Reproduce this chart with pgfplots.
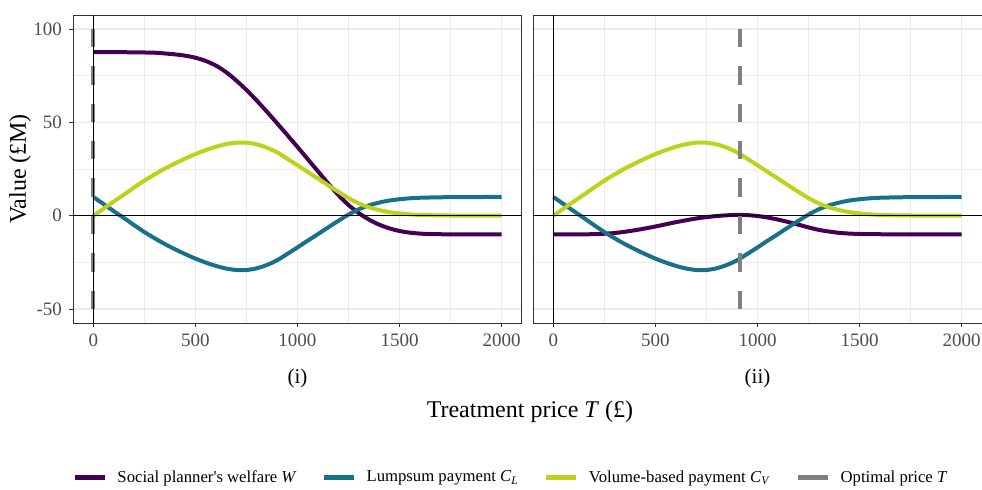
\documentclass[border=0pt]{standalone}
\usepackage{fontspec}
\setmainfont{Liberation Serif}
\usepackage{pgfplots}
\pgfplotsset{compat=1.18}
\usepackage{pgfplotstable}

\definecolor{cW}{HTML}{440154}
\definecolor{cL}{HTML}{17718A}
\definecolor{cV}{HTML}{BDD21B}
\definecolor{cT}{HTML}{808080}
\definecolor{gridc}{HTML}{EBEBEB}
\definecolor{g20}{HTML}{333333}
\definecolor{g30}{HTML}{4D4D4D}

\pgfplotstableread{
x y
0 0
50 3.8
100 7.6
150 11.3
200 15.1
250 18.8
300 22.1
350 25.2
400 28.0
450 30.6
500 33.0
550 35.1
600 36.9
650 38.3
700 39.1
750 39.1
800 38.2
850 36.4
900 33.9
950 30.5
1000 27.0
1050 23.4
1100 19.9
1150 16.3
1200 12.8
1250 9.4
1300 6.6
1350 4.5
1400 3.0
1450 1.9
1500 1.2
1550 0.7
1600 0.4
1700 0.15
1800 0.05
1900 0
2000 0
}\tabCV

\pgfplotstableread{
x y
0 10
50 6.2
100 2.4
150 -1.3
200 -5.1
250 -8.8
300 -12.1
350 -15.2
400 -18.0
450 -20.6
500 -23.0
550 -25.1
600 -26.9
650 -28.3
700 -29.1
750 -29.1
800 -28.2
850 -26.4
900 -23.9
950 -20.5
1000 -17.0
1050 -13.4
1100 -9.9
1150 -6.3
1200 -2.8
1250 0.6
1300 3.4
1350 5.5
1400 7.0
1450 8.1
1500 8.8
1550 9.3
1600 9.6
1700 9.85
1800 9.95
1900 10
2000 10
}\tabCL

\pgfplotstableread{
x y
0 87.6
100 87.6
200 87.5
300 87.3
350 86.9
400 86.4
450 85.7
500 84.6
550 82.9
600 80.4
650 76.9
700 72.4
750 67.3
800 61.7
850 55.7
900 49.5
950 43.2
1000 36.8
1050 30.3
1100 23.8
1150 17.3
1200 11.1
1250 5.7
1300 1.4
1350 -2.1
1400 -4.8
1450 -6.8
1500 -8.2
1550 -9.1
1600 -9.6
1650 -9.85
1700 -9.95
1800 -10
2000 -10
}\tabWa

\pgfplotstableread{
x y
0 -10
100 -10
200 -9.9
300 -9.3
400 -7.8
500 -5.8
600 -3.5
700 -1.5
750 -0.8
800 -0.2
850 0.2
900 0.4
950 0.3
1000 -0.2
1050 -1.0
1100 -2.1
1150 -3.4
1200 -4.8
1250 -6.3
1300 -7.6
1350 -8.5
1400 -9.2
1450 -9.6
1500 -9.8
1600 -9.95
1700 -10
2000 -10
}\tabWb

\pgfplotsset{
  panel/.style={
    scale only axis, width=224.5pt, height=154pt,
    xmin=-100, xmax=2100, ymin=-57.5, ymax=107.5,
    clip mode=individual,
    xtick={0,500,1000,1500,2000}, xticklabels={0,500,1000,1500,2000},
    minor xtick={250,750,1250,1750},
    ytick={-50,0,50,100},
    minor ytick={-25,25,75},
    grid=both,
    major grid style={color=gridc, line width=0.6pt},
    minor grid style={color=gridc, line width=0.3pt},
    axis line style={color=g20, line width=0.5pt},
    tick align=outside, major tick length=2pt, minor tick length=0pt,
    tick style={color=g20, line width=0.5pt},
    xtick pos=left, ytick pos=left,
    tick label style={font=\fontsize{9.5}{11}\selectfont, text=g30},
    /pgf/number format/assume math mode=true,
    legend image code/.code={\draw[#1, solid, line width=2.5pt] (0pt,0pt) -- (15pt,0pt);},
  },
}

\begin{document}
\begin{tikzpicture}
\begin{axis}[panel, at={(36.5pt,83pt)}, anchor=south west,
  yticklabels={-50,0,50,100},
  xlabel={Treatment price \textit{T} (£)},
  xlabel style={at={(axis description cs:1.0178,-0.289)}, anchor=center, font=\fontsize{12}{14}\selectfont},
  ylabel={Value (£M)},
  ylabel style={at={(axis description cs:-0.118,0.5)}, anchor=center, font=\fontsize{12}{14}\selectfont},
  legend columns=4,
  legend style={draw=none, fill=none, at={(axis description cs:-0.002,-0.503)}, anchor=west,
    inner xsep=0pt, inner ysep=0pt, font=\fontsize{8.35}{10}\selectfont,
    nodes={inner sep=0pt},
    /tikz/every odd column/.append style={column sep=5pt},
    /tikz/every even column/.append style={column sep=12.5pt}},
]
\addplot[cW, line width=2pt, smooth] table {\tabWa};
\addlegendentry{Social planner\textquotesingle s welfare \textit{W}}
\addplot[cL, line width=2pt, smooth] table {\tabCL};
\addlegendentry{Lumpsum payment \textit{C}\textsubscript{\textit{L}}}
\addplot[cV, line width=2pt, smooth] table {\tabCV};
\addlegendentry{Volume-based payment \textit{C}\textsubscript{\textit{V}}}
\addplot[cT, line width=2pt, dash pattern=on 9.2pt off 9.5pt] coordinates {(0,-50) (0,100)};
\addlegendentry{Optimal price \textit{T}}
\addplot[black, line width=0.6pt, forget plot] coordinates {(-100,0) (2100,0)};
\addplot[black, line width=0.6pt, forget plot] coordinates {(0,-57.5) (0,107.5)};
\node[font=\fontsize{10.5}{12}\selectfont] at (axis description cs:0.5,-0.179) {(i)};
\end{axis}

\begin{axis}[panel, at={(266.5pt,83pt)}, anchor=south west,
  yticklabels={}, ytick style={draw=none},
]
\addplot[cW, line width=2pt, smooth] table {\tabWb};
\addplot[cL, line width=2pt, smooth] table {\tabCL};
\addplot[cV, line width=2pt, smooth] table {\tabCV};
\addplot[cT, line width=2pt, dash pattern=on 9.2pt off 9.5pt] coordinates {(915,-50) (915,100)};
\addplot[black, line width=0.6pt] coordinates {(-100,0) (2100,0)};
\addplot[black, line width=0.6pt] coordinates {(0,-57.5) (0,107.5)};
\node[font=\fontsize{10.5}{12}\selectfont] at (axis description cs:0.5,-0.179) {(ii)};
\end{axis}
\pgfresetboundingbox
\path[use as bounding box] (0pt,0pt) rectangle (491pt,244.5pt);
\end{tikzpicture}
\end{document}
